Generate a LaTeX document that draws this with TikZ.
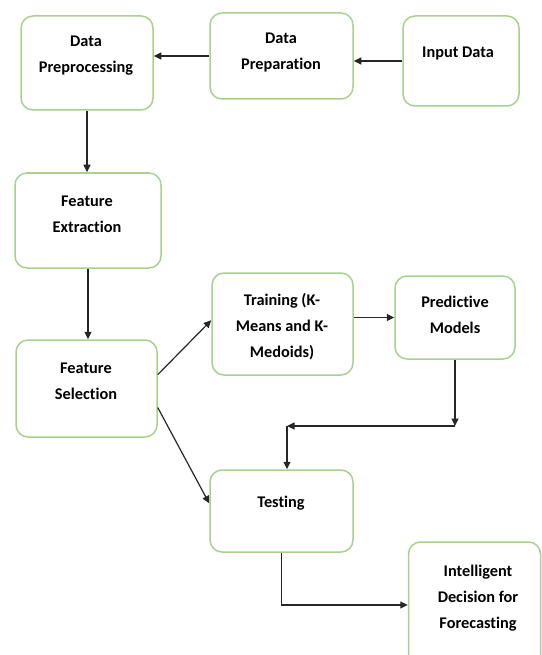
\documentclass[tikz,border=0pt]{standalone}
\usepackage{fontspec}
\setmainfont{Carlito}[Ligatures={NoCommon}]
\usetikzlibrary{arrows.meta}
\definecolor{boxgreen}{HTML}{A9D18E}
\tikzset{
	box/.style={draw=boxgreen, line width=1.5pt, rounded corners=12pt, fill=white, inner sep=0pt},
	txt/.style={align=center, font=\fontsize{16.3}{26}\selectfont\bfseries, inner sep=0pt},
	arr/.style={draw=black!85, line width=1.2pt, -{Triangle[length=7.5pt,width=7pt]}}
}
\begin{document}
\begin{tikzpicture}[x=1pt, y=-1pt]
	\useasboundingbox (0,0) rectangle (541,655);
	\node[box, minimum width=132, minimum height=94]  (prepro)  at (87,63)     {};
	\node[box, minimum width=143, minimum height=86]  (prepa)   at (281.5,56)  {};
	\node[box, minimum width=116, minimum height=90]  (input)   at (461,61)    {};
	\node[box, minimum width=146, minimum height=95]  (extract) at (88,220.5)  {};
	\node[box, minimum width=141, minimum height=97]  (select)  at (86.5,388.5){};
	\node[box, minimum width=141, minimum height=102] (train)   at (282.5,324) {};
	\node[box, minimum width=120, minimum height=83]  (predict) at (455,317.5) {};
	\node[box, minimum width=143, minimum height=82]  (test)    at (281.5,511) {};
	\node[box, minimum width=132, minimum height=126] (decide)  at (474.5,605) {};
	\node[txt] (prepro-t)  at (86,56)      {Data\\Preprocessing};
	\node[txt] (prepa-t)   at (281,52.5)   {Data\\Preparation};
	\node[txt] (input-t)   at (458,53)     {Input Data};
	\node[txt] (extract-t) at (87,214.5)   {Feature\\Extraction};
	\node[txt] (select-t)  at (86,381)     {Feature\\Selection};
	\node[txt] (train-t)   at (282,326.5)  {Training (K-\\Means and K-\\Medoids)};
	\node[txt] (predict-t) at (455,315)    {Predictive\\Models};
	\node[txt] (test-t)    at (281,503.5)  {Testing};
	\node[txt] (decide-t)  at (478,598)    {Intelligent\\Decision for\\Forecasting};
	\coordinate (down)  at (455,426);
	\coordinate (left)  at (287,426);
	\draw[arr] (prepa) -- (prepa -| prepro.east);
	\draw[arr] (input) -- (input -| prepa.east);
	\draw[arr] (prepro.south) -- (prepro.south |- extract.north);
	\draw[arr] (extract.south) -- (extract.south |- select.north);
	\draw[arr] (select.11) -- (train.177);
	\draw[arr] (select.-15) -- (test.174);
	\draw[arr] (predict -| train.east) -- (predict.west);
	\draw[arr] (predict.south) -- (down);
	\draw[arr] (down) -- (left);
	\draw[arr] (left) -- (left |- test.north);
	\draw[arr] (test.south) |- (decide.west);
\end{tikzpicture}
\end{document}
